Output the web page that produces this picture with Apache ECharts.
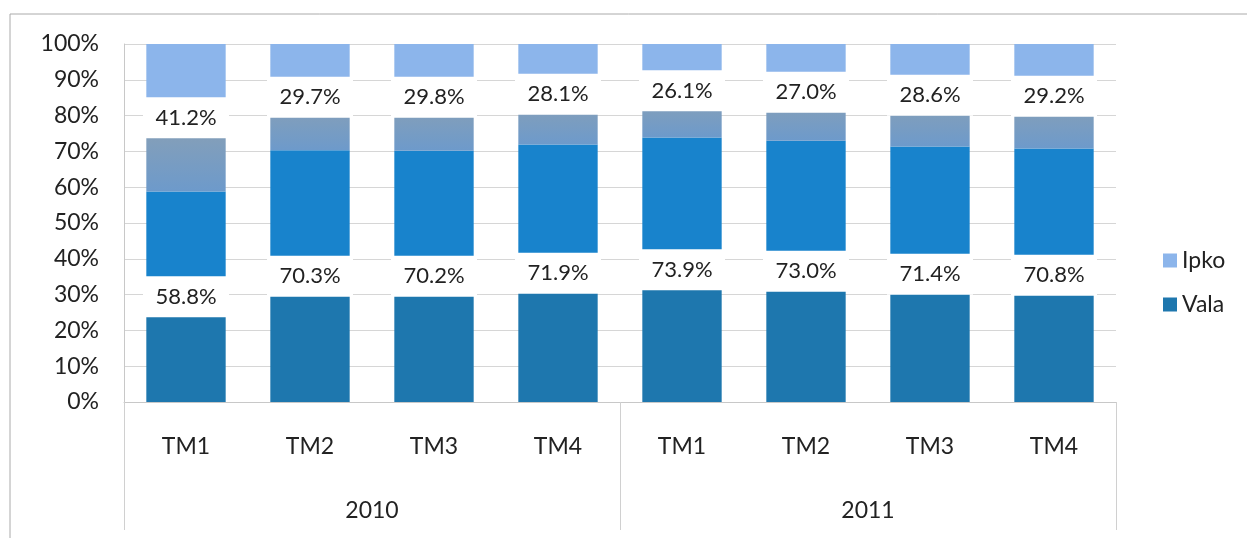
<!DOCTYPE html>
<html>
<head>
<meta charset="utf-8">
<script src="https://cdn.jsdelivr.net/npm/echarts@6/dist/echarts.min.js"></script>
<style>
  html, body { margin: 0; padding: 0; background: #fff; }
  #chart { width: 1247px; height: 538px; }
</style>
</head>
<body>
<div id="chart"></div>
<script>
const quarters = ['TM1', 'TM2', 'TM3', 'TM4', 'TM1', 'TM2', 'TM3', 'TM4'];
const years = ['2010', '2011'];
const vala = [58.8, 70.3, 70.2, 71.9, 73.9, 73.0, 71.4, 70.8];
const ipko = [41.2, 29.7, 29.8, 28.1, 26.1, 27.0, 28.6, 29.2];

const chart = echarts.init(document.getElementById('chart'));
const font = 'Lato, "Open Sans", sans-serif';

// two tones per segment, the seam sits under the white label box
const valaColor = new echarts.graphic.LinearGradient(0, 0, 0, 1, [
  { offset: 0, color: '#1883cc' },
  { offset: 0.5, color: '#1883cc' },
  { offset: 0.5, color: '#1e77ae' },
  { offset: 1, color: '#1e77ae' },
]);
const ipkoColor = new echarts.graphic.LinearGradient(0, 0, 0, 1, [
  { offset: 0, color: '#8cb5eb' },
  { offset: 0.5, color: '#8cb5eb' },
  { offset: 0.5, color: '#8aa0b4' },
  { offset: 1, color: '#6d9acb' },
]);

const boxLabel = {
  show: true,
  position: 'inside',
  formatter: (p) => p.value.toFixed(1) + '%',
  color: '#222',
  fontFamily: font,
  fontSize: 22,
  backgroundColor: '#fff',
  width: 86,
  height: 41,
  lineHeight: 41,
  align: 'center',
  verticalAlign: 'middle',
  padding: 0,
};

const option = {
  backgroundColor: '#fff',
  animation: false,
  grid: { left: 124, right: 131, top: 44, bottom: 136 },
  legend: {
    orient: 'vertical',
    left: 1158,
    top: 244,
    itemWidth: 14,
    itemHeight: 14,
    itemGap: 21,
    icon: 'rect',
    textStyle: { color: '#222', fontFamily: font, fontSize: 23 },
    data: [
      { name: 'Ipko', itemStyle: { color: '#8cb5eb' } },
      { name: 'Vala', itemStyle: { color: '#1e77ae' } },
    ],
  },
  xAxis: [
    {
      type: 'category',
      data: quarters,
      axisLine: { lineStyle: { color: '#c8c8c8' } },
      axisTick: { show: false },
      axisLabel: { color: '#222', fontFamily: font, fontSize: 23, margin: 33 },
    },
    {
      type: 'category',
      position: 'bottom',
      data: years,
      axisLine: { show: false },
      axisTick: { show: true, length: 128, lineStyle: { color: '#d0d0d0' } },
      axisLabel: { color: '#222', fontFamily: font, fontSize: 23, margin: 97 },
      splitLine: { show: false },
    },
  ],
  yAxis: {
    type: 'value',
    min: 0,
    max: 100,
    interval: 10,
    axisLine: { show: true, lineStyle: { color: '#c8c8c8' } },
    axisTick: { show: false },
    axisLabel: {
      formatter: '{value}%',
      color: '#222',
      fontFamily: font,
      fontSize: 23,
      margin: 25,
    },
    splitLine: { lineStyle: { color: '#d6d6d6' } },
  },
  series: [
    {
      name: 'Vala', type: 'bar', stack: 'share', barWidth: '64%',
      data: vala, itemStyle: { color: valaColor }, label: boxLabel,
    },
    {
      name: 'Ipko', type: 'bar', stack: 'share', barWidth: '64%',
      data: ipko, itemStyle: { color: ipkoColor }, label: boxLabel,
    },
  ],
  graphic: [
    {
      type: 'polyline',
      shape: { points: [[10, 538], [10, 14], [1247, 14]] },
      style: { stroke: '#aaaaaa', lineWidth: 1, fill: null },
    },
  ],
};

chart.setOption(option);
</script>
</body>
</html>
